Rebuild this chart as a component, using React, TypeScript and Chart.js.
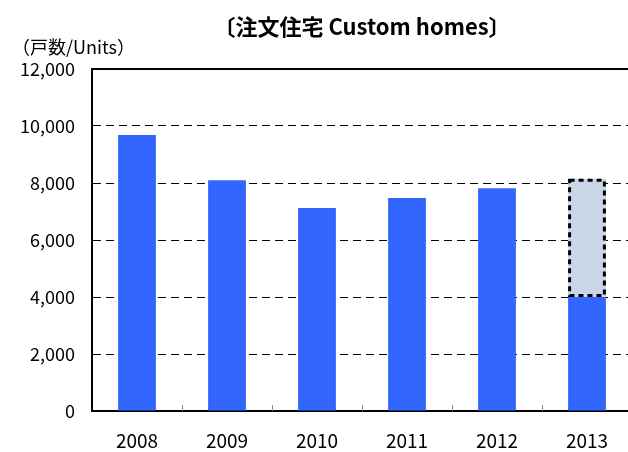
import React, { useEffect, useRef } from "react";
import { Chart, registerables } from "chart.js";

Chart.register(...registerables);

const categories = ["2008", "2009", "2010", "2011", "2012", "2013"];
const unitsValues = [9680, 8100, 7120, 7470, 7820, 4000];
const forecastValues = [null, null, null, null, null, 4150];
const yMin = 0;
const yMax = 12000;
const yStep = 2000;
const titleText = "〔注文住宅 Custom homes〕";
const unitLabel = "（戸数/Units）";

const FONT = '"Noto Sans CJK JP", "Noto Sans", sans-serif';

const decoPlugin = {
  id: "deco",
  afterDraw(chart: any) {
    const { ctx, chartArea: a, scales } = chart;
    const x = scales.x;
    ctx.save();
    // inner small ticks at category boundaries
    ctx.strokeStyle = "#888";
    ctx.lineWidth = 1;
    for (let i = 1; i < categories.length; i++) {
      const bx = Math.round((x.getPixelForTick(i - 1) + x.getPixelForTick(i)) / 2) + 0.5;
      ctx.beginPath();
      ctx.moveTo(bx, a.bottom);
      ctx.lineTo(bx, a.bottom - 6);
      ctx.stroke();
    }
    // top & right border
    ctx.strokeStyle = "#000";
    ctx.lineWidth = 2;
    ctx.beginPath();
    ctx.moveTo(a.left, a.top);
    ctx.lineTo(a.right, a.top);
    ctx.lineTo(a.right, a.bottom);
    ctx.stroke();
    // dotted outline on forecast bar
    const meta = chart.getDatasetMeta(1);
    meta.data.forEach((el: any, i: number) => {
      if (forecastValues[i] == null) return;
      const p = el.getProps(["x", "y", "base", "width"], true);
      ctx.setLineDash([5, 4]);
      ctx.lineWidth = 3;
      ctx.strokeStyle = "#000";
      ctx.strokeRect(p.x - p.width / 2 + 1.5, p.y + 1.5, p.width - 3, p.base - p.y - 3);
    });
    ctx.setLineDash([]);
    // unit label
    ctx.fillStyle = "#000";
    ctx.font = "18px " + FONT;
    ctx.textAlign = "left";
    ctx.textBaseline = "middle";
    ctx.fillText(unitLabel, 12, 47);
    ctx.restore();
  },
};

export default function App() {
  const ref = useRef<HTMLCanvasElement>(null);
  useEffect(() => {
    if (!ref.current) return;
    const chart = new Chart(ref.current, {
      type: "bar",
      data: {
        labels: categories,
        datasets: [
          {
            data: unitsValues,
            backgroundColor: "#3366FF",
            borderWidth: 0,
            stack: "s",
          },
          {
            data: forecastValues as any,
            backgroundColor: "#CAD5E8",
            borderWidth: 0,
            stack: "s",
          },
        ],
      },
      options: {
        responsive: false,
        devicePixelRatio: 1,
        animation: false,
        layout: { padding: { left: 0, right: 8, top: 0, bottom: 0 } },
        datasets: { bar: { categoryPercentage: 1, barPercentage: 0.42 } },
        plugins: {
          legend: { display: false },
          tooltip: { enabled: false },
          title: {
            display: true,
            text: titleText,
            fullSize: false,
            color: "#000",
            font: { family: FONT, size: 22, weight: "bold", lineHeight: 1.2 },
            padding: { top: 13, bottom: 29.6 },
          },
        },
        scales: {
          x: {
            stacked: true,
            grid: { display: false },
            border: { display: true, color: "#000", width: 2 },
            ticks: {
              color: "#000",
              font: { family: FONT, size: 19 },
              padding: 10,
            },
            afterFit: (s: any) => {
              s.height = 41;
            },
          },
          y: {
            stacked: true,
            min: yMin,
            max: yMax,
            grid: {
              color: "#000",
              lineWidth: 1,
              drawTicks: false,
            },
            border: { display: true, color: "#000", width: 2, dash: [8, 5] },
            ticks: {
              stepSize: yStep,
              color: "#000",
              padding: 17,
              font: { family: FONT, size: 18 },
              callback: (v: any) => Number(v).toLocaleString("en-US"),
            },
            afterFit: (s: any) => {
              s.width = 92;
            },
          },
        },
      },
      plugins: [decoPlugin],
    });
    return () => chart.destroy();
  }, []);
  return (
    <div
      style={{
        position: "fixed",
        left: 0,
        top: 0,
        width: 628,
        height: 452,
        overflow: "hidden",
        background: "#fff",
      }}
    >
      <canvas ref={ref} width={640} height={452} style={{ display: "block" }} />
    </div>
  );
}
